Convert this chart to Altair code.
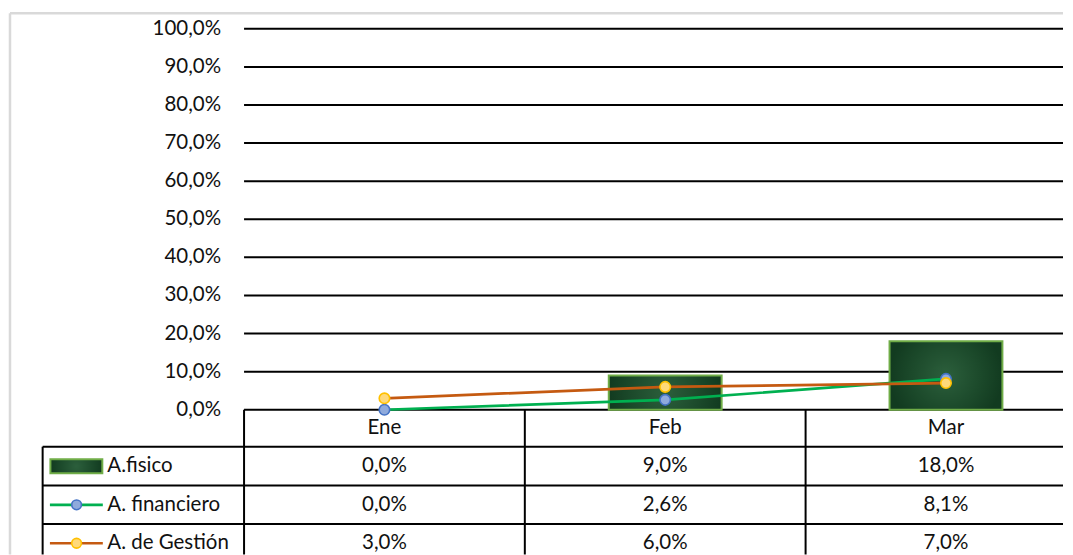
import altair as alt
import pandas as pd

# ---------------- data ----------------
categories = ["Ene", "Feb", "Mar"]
fisico = [0.0, 9.0, 18.0]
financiero = [0.0, 2.6, 8.1]
gestion = [3.0, 6.0, 7.0]
series_names = ["A.fisico", "A. financiero", "A. de Gestión"]
y_ticks = [0, 10, 20, 30, 40, 50, 60, 70, 80, 90, 100]

# ---------------- layout helpers (pixel layout -> scale units) ----------------
W, H = 1057, 547
BAND0 = 244.5
BAND = 281.3
Y0 = 410.0
PPU = 3.817


def ux(px):
    return (px - BAND0) / BAND


def uy(py):
    return (Y0 - py) / PPU


X_DOM = [ux(8), ux(8 + W)]
Y_DOM = [uy(8 + H), uy(8)]
XR = X_DOM[1]
YB = Y_DOM[0]

xs = alt.Scale(domain=X_DOM, nice=False, zero=False)
ys = alt.Scale(domain=Y_DOM, nice=False, zero=False)
FONT = "Lato"
FS = 20.5
TXT = "#111111"


def X(f="x"):
    return alt.X(f"{f}:Q", scale=xs, axis=None)


def Y(f="y"):
    return alt.Y(f"{f}:Q", scale=ys, axis=None)


def fmt(v):
    return f"{v:.1f}".replace(".", ",") + "%"


# outer chart border
border = pd.DataFrame([
    {"x": ux(10), "x2": ux(10), "y": YB, "y2": uy(12.7)},
    {"x": ux(10), "x2": XR, "y": uy(12.7), "y2": uy(12.7)},
])
border_l = alt.Chart(border).mark_rule(color="#d9d9d9", strokeWidth=2.5).encode(
    x=X(), x2="x2:Q", y=Y(), y2="y2:Q")

# gridlines
grid_df = pd.DataFrame({"y": y_ticks, "x": 0.0, "x2": XR})
grid = alt.Chart(grid_df).mark_rule(color="#000000", strokeWidth=2).encode(
    x=X(), x2="x2:Q", y=Y())

ylab_df = pd.DataFrame({"y": y_ticks, "x": 0.0,
                        "t": [f"{t:.1f}".replace(".", ",") + "%" for t in y_ticks]})
ylabels = alt.Chart(ylab_df).mark_text(
    align="right", baseline="middle", dx=-23, font=FONT, fontSize=FS, color=TXT
).encode(x=X(), y=Y(), text="t:N")

# bars
bar_df = pd.DataFrame({"c": categories, "i": range(3), "v": fisico})
bar_df["x"] = bar_df["i"] + 0.5 - 0.201
bar_df["x2"] = bar_df["i"] + 0.5 + 0.201
bar_df["y"] = 0.0
BAR_FILL = alt.Gradient(
    gradient="radial",
    stops=[alt.GradientStop(color="#2c5f3c", offset=0),
           alt.GradientStop(color="#1c4a2b", offset=0.6),
           alt.GradientStop(color="#123b20", offset=1)],
)
bars = alt.Chart(bar_df).transform_filter("datum.v > 0").mark_rect(
    fill=BAR_FILL, stroke="#70ad47", strokeWidth=2
).encode(x=X(), x2="x2:Q", y=Y(), y2="v:Q")


# lines
def series_layer(vals, line_color, fill, stroke):
    df = pd.DataFrame({"c": categories, "x": [i + 0.5 for i in range(3)], "y": vals})
    ln = alt.Chart(df).mark_line(color=line_color, strokeWidth=2.7).encode(x=X(), y=Y())
    pt = alt.Chart(df).mark_point(shape="circle", filled=True, fill=fill, stroke=stroke,
                                  strokeWidth=1.6, size=110, opacity=1).encode(x=X(), y=Y())
    return ln + pt


GREEN, BLUE_F, BLUE_S = "#00b050", "#8faadc", "#4472c4"
ORANGE, YEL_F, YEL_S = "#c55a11", "#ffd97a", "#ffc000"
fin = series_layer(financiero, GREEN, BLUE_F, BLUE_S)
ges = series_layer(gestion, ORANGE, YEL_F, YEL_S)

# data table
row_px = [410.0, 447.0, 486.0, 524.5, 563.0]
row_center = [(row_px[k] + row_px[k + 1]) / 2 for k in range(4)]
TL = 42.7
hl = pd.DataFrame({"y": [uy(p) for p in row_px[1:4]], "x": ux(TL), "x2": XR})
hlines = alt.Chart(hl).mark_rule(color="#000000", strokeWidth=2).encode(x=X(), x2="x2:Q", y=Y())
vl = pd.DataFrame({"x": [ux(TL)] + [float(i) for i in range(3)],
                   "y": [uy(row_px[1])] + [0.0] * 3, "y2": YB})
vlines = alt.Chart(vl).mark_rule(color="#000000", strokeWidth=2).encode(x=X(), y=Y(), y2="y2:Q")

head_df = pd.DataFrame({"t": categories, "x": [i + 0.5 for i in range(3)], "y": uy(row_center[0])})
head = alt.Chart(head_df).mark_text(font=FONT, fontSize=FS, color=TXT, baseline="middle").encode(
    x=X(), y=Y(), text="t:N")

cells = []
for r, vals in enumerate([fisico, financiero, gestion]):
    for i, v in enumerate(vals):
        cells.append({"x": i + 0.5, "y": uy(row_center[r + 1]), "t": fmt(v)})
cell_txt = alt.Chart(pd.DataFrame(cells)).mark_text(
    font=FONT, fontSize=FS, color=TXT, baseline="middle").encode(x=X(), y=Y(), text="t:N")

name_df = pd.DataFrame({"t": series_names, "x": ux(107.5),
                        "y": [uy(row_center[k + 1]) for k in range(3)]})
names = alt.Chart(name_df).mark_text(
    font=FONT, fontSize=FS, color=TXT, align="left", baseline="middle").encode(x=X(), y=Y(), text="t:N")

key_rect = alt.Chart(pd.DataFrame([{"x": ux(50.5), "x2": ux(102.5),
                                     "y": uy(row_center[1] - 7), "y2": uy(row_center[1] + 7)}])
                     ).mark_rect(fill=BAR_FILL, stroke="#70ad47", strokeWidth=2).encode(
    x=X(), x2="x2:Q", y=Y(), y2="y2:Q")


def key_line(row, line_color, fill, stroke):
    yy = uy(row_center[row])
    ln = alt.Chart(pd.DataFrame([{"x": ux(50), "x2": ux(103), "y": yy}])).mark_rule(
        color=line_color, strokeWidth=2.7).encode(x=X(), x2="x2:Q", y=Y())
    pt = alt.Chart(pd.DataFrame([{"x": ux(76.7), "y": yy}])).mark_point(
        shape="circle", filled=True, fill=fill, stroke=stroke, strokeWidth=1.6, size=95,
        opacity=1).encode(x=X(), y=Y())
    return ln + pt


k2 = key_line(2, GREEN, BLUE_F, BLUE_S)
k3 = key_line(3, ORANGE, YEL_F, YEL_S)

chart = alt.layer(
    border_l, grid, ylabels, bars, fin, ges, hlines, vlines, head, cell_txt, names,
    key_rect, k2, k3
).properties(width=W, height=H, padding=0, background="white").configure_view(stroke=None)

chart.save("out.html", embed_options={"renderer": "svg", "actions": False})
